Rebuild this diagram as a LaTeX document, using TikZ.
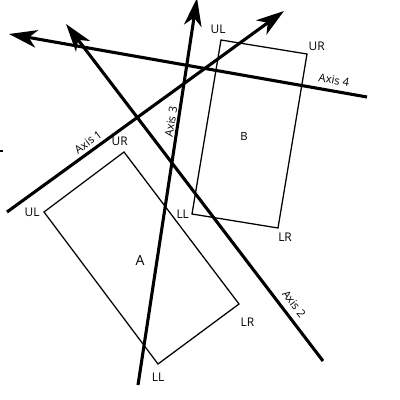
\documentclass[tikz,border=0pt]{standalone}
\usepackage{fontspec}
\setmainfont{Open Sans}
\usetikzlibrary{arrows.meta,positioning,calc}
\tikzset{axis/.style={-{Stealth[length=7mm,width=4.4mm,inset=2mm]},line width=2.2pt,draw=black},box/.style={draw=black,line width=.9pt},corner/.style={font=\fontsize{8.5}{10}\selectfont,inner sep=1pt},axlabel/.style={font=\footnotesize,inner sep=1pt}}

\begin{document}
\begin{tikzpicture}[x=0.025cm,y=-0.025cm]
\useasboundingbox (0,0) rectangle (400,400);
% rectangle A
\coordinate (aul) at (44,212);
\coordinate (aur) at (124,152);
\coordinate (alr) at (239,304);
\coordinate (all) at (158,364);
\draw[box] (aul)--(aur)--(alr)--(all)--cycle;
\node[corner,left=2pt of aul] (aulL) {UL};
\node[corner,above=3pt of aur,xshift=-3pt] (aurL) {UR};
\node[corner,below right=9pt and 0pt of alr] (alrL) {LR};
\node[corner,below=5pt of all] (allL) {LL};
\node[font=\normalsize] (A) at (140,260) {A};
% rectangle B
\coordinate (bul) at (221,40);
\coordinate (bur) at (307,54);
\coordinate (blr) at (278,228);
\coordinate (bll) at (192,214);
\draw[box] (bul)--(bur)--(blr)--(bll)--cycle;
\node[corner,above=3pt of bul,xshift=-2pt] (bulL) {UL};
\node[corner,above right=1pt and 0pt of bur] (burL) {UR};
\node[corner,below right=2pt and -1pt of blr] (blrL) {LR};
\node[corner,left=1pt of bll] (bllL) {LL};
\node[font=\footnotesize] (B) at (244,136) {B};
% axes
\coordinate (a1s) at (7,212);   \coordinate (a1e) at (284,11);
\coordinate (a2s) at (323,361); \coordinate (a2e) at (66,24);
\coordinate (a3s) at (138,385); \coordinate (a3e) at (197,-2);
\coordinate (a4s) at (367,97);  \coordinate (a4e) at (9,34);
\draw[axis] (a1s)--(a1e);
\draw[axis] (a2s)--(a2e);
\draw[axis] (a3s)--(a3e);
\draw[axis] (a4s)--(a4e);
\node[axlabel,rotate=36] (ax1) at (88,142) {Axis 1};
\node[axlabel,rotate=-53] (ax2) at (294,304) {Axis 2};
\node[axlabel,rotate=81] (ax3) at (171,122) {Axis 3};
\node[axlabel,rotate=-10] (ax4) at (334,80) {Axis 4};
\draw[line width=.8pt] (0,151)--(3,151);
\end{tikzpicture}
\end{document}
